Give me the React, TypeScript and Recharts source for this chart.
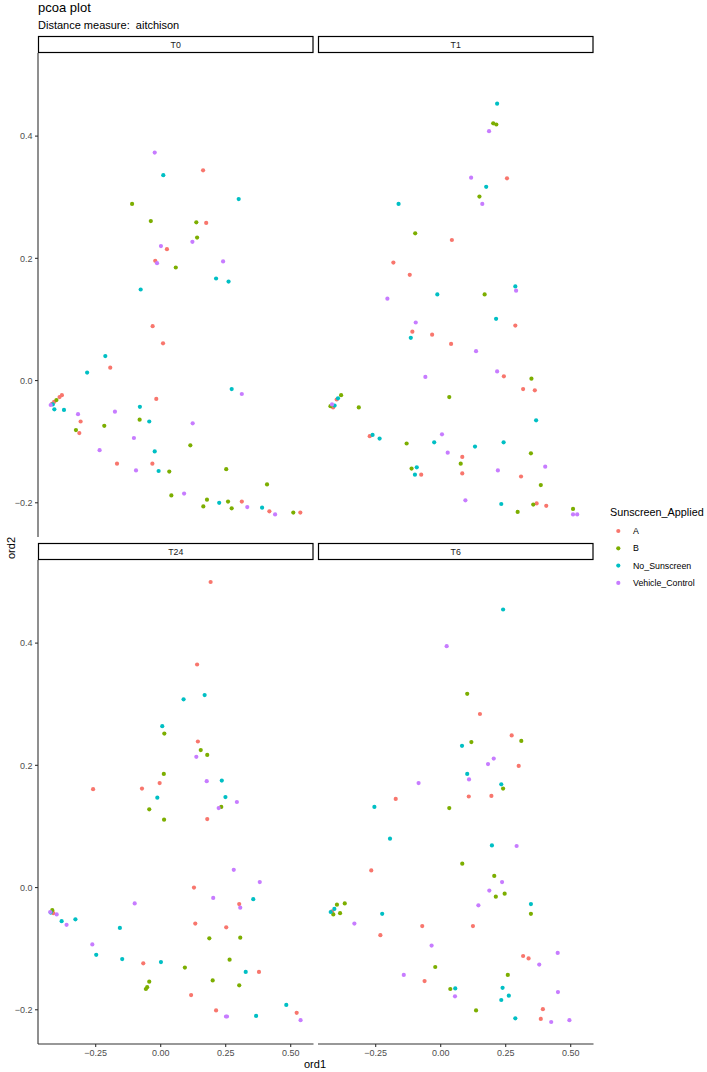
import { ScatterChart, Scatter, XAxis, YAxis } from "recharts";

// group colours (ggplot default hue palette)
const GROUPS = ["A", "B", "No_Sunscreen", "Vehicle_Control"];
const COLORS = ["#F8766D", "#7CAE00", "#00BFC4", "#C77CFF"];

const X_TICKS = [-0.25, 0, 0.25, 0.5];
const Y_TICKS = [-0.2, 0, 0.2, 0.4];

// [ord1, ord2] per sample
const T0_A = [[0.163,0.344],[0.175,0.258],[0.024,0.215],[-0.021,0.196],[-0.031,0.089],[0.009,0.061],[-0.194,0.021],[-0.017,-0.03],[-0.38,-0.024],[-0.389,-0.027],[-0.41,-0.035],[-0.418,-0.038],[-0.308,-0.067],[-0.313,-0.086],[-0.168,-0.136],[-0.032,-0.136],[0.312,-0.198],[0.418,-0.214],[0.537,-0.216]];
const T0_B = [[-0.11,0.289],[-0.038,0.261],[0.137,0.259],[0.14,0.234],[0.058,0.185],[-0.401,-0.032],[-0.081,-0.064],[-0.217,-0.074],[-0.326,-0.081],[0.114,-0.106],[0.252,-0.145],[0.033,-0.149],[0.409,-0.17],[0.041,-0.188],[0.178,-0.195],[0.164,-0.206],[0.259,-0.198],[0.273,-0.209],[0.51,-0.216]];
const T0_NS = [[0.01,0.336],[0.3,0.297],[0.213,0.167],[0.261,0.162],[-0.077,0.149],[-0.213,0.04],[-0.283,0.013],[0.273,-0.014],[-0.415,-0.039],[-0.409,-0.047],[-0.372,-0.048],[-0.08,-0.043],[-0.044,-0.067],[-0.023,-0.116],[-0.008,-0.148],[0.225,-0.2],[0.39,-0.208]];
const T0_VC = [[-0.023,0.373],[0.122,0.227],[0.001,0.22],[-0.014,0.192],[0.24,0.195],[0.312,-0.022],[-0.423,-0.04],[-0.176,-0.051],[-0.318,-0.055],[0.123,-0.07],[-0.103,-0.094],[-0.235,-0.114],[-0.095,-0.147],[0.09,-0.185],[0.333,-0.207],[0.44,-0.219]];

const T1_A = [[0.255,0.331],[0.043,0.23],[-0.182,0.193],[-0.119,0.173],[0.287,0.09],[-0.109,0.08],[-0.033,0.075],[0.04,0.06],[0.243,0.007],[0.317,-0.014],[0.362,-0.016],[-0.4,-0.031],[-0.414,-0.044],[-0.273,-0.091],[0.083,-0.125],[0.083,-0.152],[-0.075,-0.154],[0.309,-0.157],[0.369,-0.201],[0.406,-0.205]];
const T1_B = [[0.202,0.421],[0.214,0.419],[0.149,0.301],[-0.098,0.241],[0.169,0.141],[0.349,0.003],[0.033,-0.027],[-0.383,-0.024],[-0.424,-0.042],[-0.315,-0.044],[-0.131,-0.103],[0.347,-0.119],[0.077,-0.136],[-0.112,-0.144],[0.385,-0.171],[0.356,-0.203],[0.296,-0.215],[0.509,-0.21]];
const T1_NS = [[0.217,0.453],[0.175,0.317],[-0.162,0.289],[0.287,0.154],[-0.013,0.141],[0.213,0.101],[-0.115,0.07],[-0.395,-0.029],[-0.408,-0.041],[0.367,-0.065],[-0.262,-0.089],[-0.235,-0.095],[-0.025,-0.101],[0.132,-0.108],[0.242,-0.101],[-0.092,-0.142],[-0.099,-0.154],[0.233,-0.202]];
const T1_VC = [[0.186,0.408],[0.117,0.332],[0.16,0.289],[0.29,0.147],[-0.205,0.134],[-0.096,0.095],[0.136,0.048],[-0.059,0.006],[0.217,0.015],[-0.418,-0.039],[0.005,-0.088],[0.027,-0.118],[0.402,-0.141],[0.22,-0.147],[0.095,-0.196],[0.509,-0.219],[0.525,-0.219]];

const T24_A = [[0.192,0.5],[0.14,0.365],[0.143,0.239],[-0.004,0.171],[-0.26,0.161],[-0.072,0.162],[0.179,0.112],[0.128,0],[0.302,-0.027],[-0.413,-0.042],[0.133,-0.059],[0.252,-0.065],[-0.067,-0.124],[0.378,-0.138],[0.117,-0.176],[0.213,-0.201],[0.523,-0.205]];
const T24_B = [[0.014,0.252],[0.154,0.225],[0.179,0.217],[0.012,0.186],[-0.044,0.128],[0.233,0.132],[0.013,0.111],[-0.417,-0.037],[0.187,-0.083],[0.306,-0.082],[0.265,-0.118],[0.093,-0.131],[0.2,-0.152],[-0.044,-0.154],[-0.052,-0.163],[-0.057,-0.166],[0.302,-0.16]];
const T24_NS = [[0.169,0.315],[0.088,0.308],[0.006,0.264],[0.235,0.175],[-0.013,0.147],[0.249,0.148],[0.356,-0.019],[-0.423,-0.041],[-0.381,-0.055],[-0.328,-0.052],[-0.157,-0.066],[-0.248,-0.11],[-0.148,-0.117],[0.001,-0.122],[0.327,-0.138],[0.483,-0.192],[0.367,-0.21]];
const T24_VC = [[0.137,0.214],[0.177,0.174],[0.293,0.14],[0.223,0.13],[0.281,0.029],[0.381,0.009],[0.202,-0.017],[0.306,-0.033],[-0.1,-0.026],[-0.425,-0.04],[-0.4,-0.044],[-0.362,-0.061],[-0.263,-0.093],[0.251,-0.211],[0.255,-0.211],[0.538,-0.217]];

const T6_A = [[0.151,0.284],[0.273,0.249],[0.3,0.199],[0.108,0.149],[0.195,0.15],[-0.173,0.145],[-0.267,0.028],[-0.418,-0.039],[-0.071,-0.063],[0.124,-0.063],[-0.232,-0.078],[0.317,-0.112],[0.338,-0.116],[-0.062,-0.153],[0.393,-0.199],[0.385,-0.215]];
const T6_B = [[0.102,0.317],[0.31,0.24],[0.118,0.238],[0.24,0.162],[0.033,0.13],[0.083,0.039],[0.206,0.019],[0.212,-0.015],[0.246,-0.01],[0.347,-0.043],[-0.369,-0.026],[-0.399,-0.028],[-0.413,-0.044],[-0.387,-0.042],[-0.021,-0.13],[0.258,-0.143],[0.037,-0.166],[0.136,-0.201]];
const T6_NS = [[0.24,0.455],[0.082,0.232],[0.102,0.186],[0.233,0.169],[-0.255,0.132],[-0.195,0.08],[0.197,0.069],[0.347,-0.027],[-0.409,-0.035],[-0.423,-0.04],[-0.225,-0.043],[0.056,-0.165],[0.238,-0.164],[0.262,-0.177],[0.233,-0.184],[0.287,-0.214]];
const T6_VC = [[0.023,0.395],[0.204,0.211],[0.182,0.202],[0.109,0.177],[-0.085,0.171],[0.292,0.068],[0.236,0.009],[0.187,-0.005],[0.145,-0.029],[-0.332,-0.059],[-0.035,-0.095],[0.45,-0.107],[0.379,-0.126],[-0.142,-0.143],[0.451,-0.171],[0.055,-0.178],[0.425,-0.22],[0.495,-0.217]];

const FONT = "'Liberation Sans', Arial, Helvetica, sans-serif";
const X_DOMAIN = [-0.4719, 0.5877];
const Y_DOMAIN = [-0.256, 0.536];
const PW = 275.5;
const PH = 484;
const AX_W = 40;
const AX_H = 30;

const fmtX = (v: number) => (v < 0 ? "\u2212" : "") + Math.abs(v).toFixed(2);
const fmtY = (v: number) => (v < 0 ? "\u2212" : "") + Math.abs(v).toFixed(1);

const toRows = (pts: number[][]) => pts.map(([x, y]) => ({ x, y }));

const dot = (color: string) => (props: any) =>
    <circle cx={props.cx} cy={props.cy} r={2.1} fill={color} />;

const tickStyle = { fill: "#4D4D4D", fontSize: 9, fontFamily: FONT };
const lineStyle = { stroke: "#333333", strokeWidth: 1.1 };

interface PanelProps {
    label: string;
    left: number;
    top: number;
    series: number[][][];
    showX: boolean;
    showY: boolean;
}

function Panel({ left, top, series, showX, showY }: PanelProps) {
    return (
        <div style={{ position: "absolute", left: left - AX_W, top }}>
            <ScatterChart
                width={PW + AX_W}
                height={PH + AX_H}
                margin={{ top: 0, right: 0, bottom: 0, left: 0 }}
            >
                <XAxis
                    type="number"
                    dataKey="x"
                    domain={X_DOMAIN}
                    ticks={X_TICKS}
                    allowDataOverflow
                    height={AX_H}
                    tickFormatter={fmtX}
                    tick={showX ? tickStyle : false}
                    axisLine={showX ? lineStyle : false}
                    tickLine={showX ? lineStyle : false}
                    tickSize={3}
                    tickMargin={3}
                />
                <YAxis
                    type="number"
                    dataKey="y"
                    domain={Y_DOMAIN}
                    ticks={Y_TICKS}
                    allowDataOverflow
                    width={AX_W}
                    tickFormatter={fmtY}
                    tick={showY ? tickStyle : false}
                    axisLine={showY ? lineStyle : false}
                    tickLine={showY ? lineStyle : false}
                    tickSize={3}
                    tickMargin={2.5}
                />
                {series.map((pts, i) => (
                    <Scatter
                        key={GROUPS[i]}
                        name={GROUPS[i]}
                        data={toRows(pts)}
                        fill={COLORS[i]}
                        shape={dot(COLORS[i])}
                        isAnimationActive={false}
                    />
                ))}
            </ScatterChart>
        </div>
    );
}

const PANELS = [
    { label: "T0", left: 38, top: 53, series: [T0_A, T0_B, T0_NS, T0_VC], showX: false, showY: true },
    { label: "T1", left: 318, top: 53, series: [T1_A, T1_B, T1_NS, T1_VC], showX: false, showY: false },
    { label: "T24", left: 38, top: 560, series: [T24_A, T24_B, T24_NS, T24_VC], showX: true, showY: true },
    { label: "T6", left: 318, top: 560, series: [T6_A, T6_B, T6_NS, T6_VC], showX: true, showY: false },
];

export default function App() {
    return (
        <div
            style={{
                position: "relative",
                width: 707,
                height: 1072,
                background: "#ffffff",
                fontFamily: FONT,
                overflow: "hidden",
            }}
        >
            <style>{"body{margin:0}"}</style>
            {PANELS.map((p) => (
                <Panel key={p.label} {...p} />
            ))}
            <svg
                width={707}
                height={1072}
                style={{ position: "absolute", left: 0, top: 0, pointerEvents: "none" }}
                fontFamily={FONT}
            >
                <text x={38} y={12} fontSize={13} fill="#000">pcoa plot</text>
                <text x={38} y={28.5} fontSize={11} fill="#000" style={{ whiteSpace: "pre" }}>
                    {"Distance measure:  aitchison"}
                </text>

                {PANELS.map((p) => (
                    <g key={p.label}>
                        <rect
                            x={p.left + 0.5}
                            y={p.top - 16.5}
                            width={PW - 1}
                            height={16}
                            fill="#ffffff"
                            stroke="#000"
                            strokeWidth={1.2}
                        />
                        <text
                            x={p.left + PW / 2}
                            y={p.top - 5.3}
                            fontSize={8.8}
                            fill="#1A1A1A"
                            textAnchor="middle"
                        >
                            {p.label}
                        </text>
                    </g>
                ))}

                <text x={315} y={1068} fontSize={11} textAnchor="middle" fill="#000">ord1</text>
                <text
                    x={0}
                    y={0}
                    fontSize={11}
                    textAnchor="middle"
                    fill="#000"
                    transform="translate(15,548) rotate(-90)"
                >
                    ord2
                </text>

                <text x={610} y={516} fontSize={10.8} fill="#000">Sunscreen_Applied</text>
                {GROUPS.map((g, i) => (
                    <g key={g}>
                        <circle cx={618.3} cy={531 + i * 17.3} r={2.1} fill={COLORS[i]} />
                        <text x={633} y={531 + i * 17.3 + 3.1} fontSize={8.8} fill="#000">
                            {g}
                        </text>
                    </g>
                ))}
            </svg>
        </div>
    );
}
